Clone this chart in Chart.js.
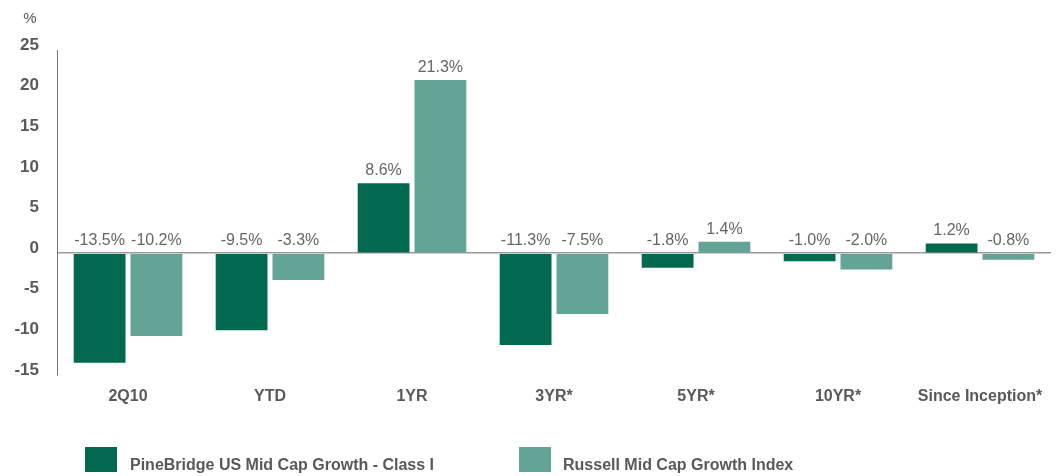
<!DOCTYPE html>
<html>
<head>
<meta charset="utf-8">
<script src="https://cdn.jsdelivr.net/npm/chart.js@4/dist/chart.umd.min.js"></script>
<style>
  html, body { margin: 0; padding: 0; background: #fff; }
  #wrap { width: 1058px; height: 476px; position: relative; }
</style>
</head>
<body>
<div id="wrap"><canvas id="c" width="1058" height="476"></canvas></div>
<script>
const categories = ['2Q10', 'YTD', '1YR', '3YR*', '5YR*', '10YR*', 'Since Inception*'];
const pineBridge = [-13.5, -9.5, 8.6, -11.3, -1.8, -1.0, 1.2];
const russell = [-10.2, -3.3, 21.3, -7.5, 1.4, -2.0, -0.8];
const seriesNames = ['PineBridge US Mid Cap Growth - Class I', 'Russell Mid Cap Growth Index'];
const seriesColors = ['#00694F', '#63A497'];
const yMin = -15, yMax = 25, yStep = 5;
const unitLabel = '%';

const FONT = "'Liberation Sans', Arial, sans-serif";
const TEXT = '#595959';

const valueLabels = {
  id: 'valueLabels',
  afterDatasetsDraw(chart) {
    const ctx = chart.ctx;
    const zeroY = chart.scales.y.getPixelForValue(0);
    ctx.save();
    ctx.font = '16px ' + FONT;
    ctx.fillStyle = '#666';
    ctx.textAlign = 'center';
    ctx.textBaseline = 'alphabetic';
    chart.data.datasets.forEach((ds, i) => {
      const meta = chart.getDatasetMeta(i);
      meta.data.forEach((el, j) => {
        const v = ds.data[j];
        const y = v >= 0 ? el.y - 8 : zeroY - 8;
        ctx.fillText(v.toFixed(1) + '%', el.x, y);
      });
    });
    ctx.restore();
  }
};

const extras = {
  id: 'extras',
  afterDraw(chart) {
    const ctx = chart.ctx;
    ctx.save();
    ctx.font = '15px ' + FONT;
    ctx.fillStyle = TEXT;
    ctx.textAlign = 'center';
    ctx.textBaseline = 'middle';
    ctx.fillText(unitLabel, 30, 19);
    const items = [{ x: 85, tx: 130 }, { x: 519, tx: 563 }];
    ctx.font = 'bold 16px ' + FONT;
    ctx.textAlign = 'left';
    items.forEach((it, i) => {
      ctx.fillStyle = seriesColors[i];
      ctx.fillRect(it.x, 447, 32, 25);
      ctx.fillStyle = TEXT;
      ctx.fillText(seriesNames[i], it.tx, 466);
    });
    ctx.restore();
  }
};

new Chart(document.getElementById('c'), {
  type: 'bar',
  data: {
    labels: categories,
    datasets: [
      { label: seriesNames[0], data: pineBridge, backgroundColor: seriesColors[0] },
      { label: seriesNames[1], data: russell, backgroundColor: seriesColors[1] }
    ]
  },
  options: {
    responsive: false,
    animation: false,
    devicePixelRatio: 1,
    layout: { padding: { top: 50, right: 7, bottom: 61, left: 0 } },
    datasets: { bar: { categoryPercentage: 0.80, barPercentage: 0.912 } },
    plugins: {
      legend: { display: false },
      tooltip: { enabled: false }
    },
    scales: {
      x: {
        grid: { display: false, drawTicks: false },
        border: { display: false },
        ticks: { color: TEXT, font: { family: FONT, size: 16, weight: 'bold' }, padding: 12, maxRotation: 0, autoSkip: false },
        afterFit(s) { s.height = 40; }
      },
      y: {
        min: yMin, max: yMax,
        grid: {
          drawTicks: false,
          color: (c) => (c.tick && c.tick.value === 0 ? '#9a9a9a' : 'rgba(0,0,0,0)'),
          lineWidth: 1.5
        },
        border: { display: true, color: '#777', width: 1 },
        ticks: { stepSize: yStep, color: TEXT, font: { family: FONT, size: 17, weight: 'bold' }, padding: 18, labelOffset: -5 },
        afterFit(s) { s.width = 57; }
      }
    }
  },
  plugins: [valueLabels, extras]
});
</script>
</body>
</html>
